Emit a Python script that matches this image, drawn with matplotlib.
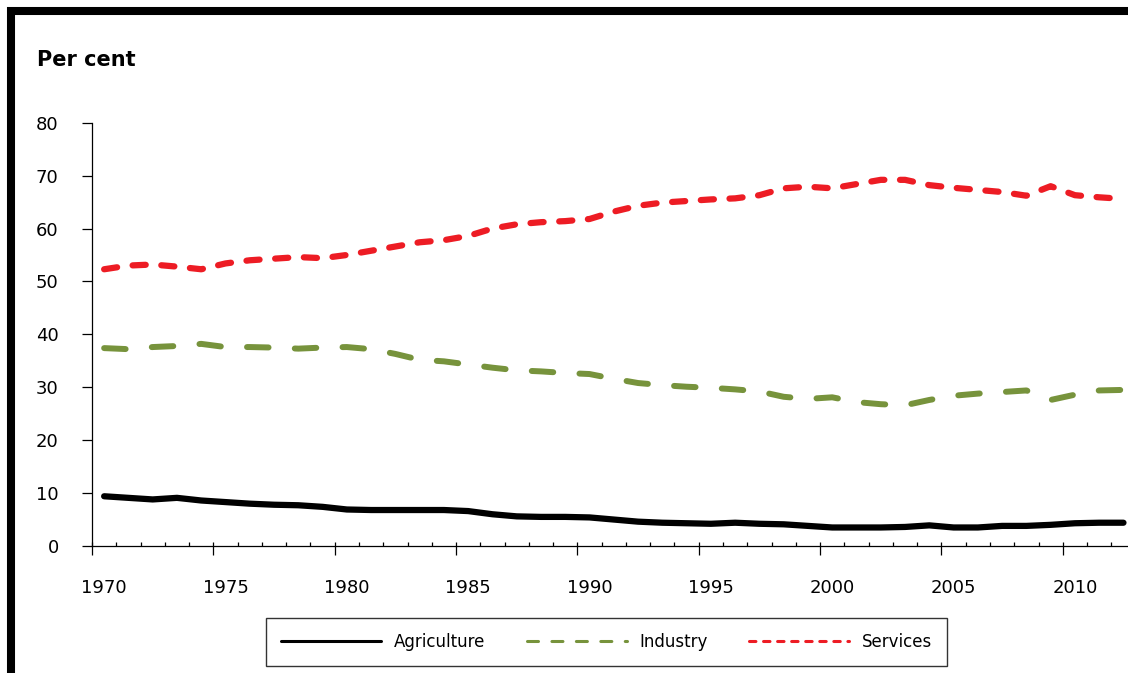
import numpy as np
import matplotlib
matplotlib.use('Agg')
from matplotlib import pyplot as plt
from matplotlib.patches import Rectangle

plt.rcParams['font.family'] = ['DejaVu Sans']

# 数据：各产业占比（百分比）
years = list(range(1970, 2013))
agriculture = [9.4, 9.1, 8.8, 9.1, 8.6, 8.3, 8.0, 7.8, 7.7, 7.4,
               6.9, 6.8, 6.8, 6.8, 6.8, 6.6, 6.0, 5.6, 5.5, 5.5,
               5.4, 5.0, 4.6, 4.4, 4.3, 4.2, 4.4, 4.2, 4.1, 3.8,
               3.5, 3.5, 3.5, 3.6, 3.9, 3.5, 3.5, 3.8, 3.8, 4.0,
               4.3, 4.4, 4.4]
industry = [37.4, 37.2, 37.6, 37.8, 38.2, 37.6, 37.6, 37.5, 37.3, 37.5,
            37.6, 37.2, 36.3, 35.2, 34.9, 34.3, 33.7, 33.2, 33.0, 32.7,
            32.5, 31.6, 30.8, 30.4, 30.1, 29.9, 29.6, 29.2, 28.2, 27.8,
            28.1, 27.2, 26.8, 26.6, 27.6, 28.4, 28.8, 29.1, 29.4, 27.6,
            28.6, 29.4, 29.5]
services = [52.3, 53.0, 53.2, 52.8, 52.3, 53.4, 54.0, 54.3, 54.6, 54.4,
            55.0, 55.8, 56.6, 57.4, 57.8, 58.6, 60.0, 60.8, 61.2, 61.4,
            61.8, 63.2, 64.3, 64.9, 65.2, 65.5, 65.7, 66.3, 67.6, 67.9,
            67.6, 68.4, 69.2, 69.2, 68.2, 67.7, 67.3, 66.9, 66.2, 68.0,
            66.3, 65.9, 65.6]
series_names = ['Agriculture', 'Industry', 'Services']
y_ticks = list(range(0, 90, 10))
x_label_years = list(range(1970, 2015, 5))

fig = plt.figure(figsize=(11.28, 6.73), dpi=100)
W, H = 1128, 673
n = len(years)
cat_w = 24.27
ax = fig.add_axes([92 / W, (H - 546) / H, cat_w * n / W, (546 - 122.7) / H])

ax.plot(years, agriculture, color='black', lw=4.5, solid_joinstyle='round',
        solid_capstyle='round', label=series_names[0])
ax.plot(years, industry, color='#77933C', lw=4.3, dashes=(3.6, 4.4),
        dash_capstyle='round', dash_joinstyle='round', label=series_names[1])
ax.plot(years, services, color='#ED1C24', lw=4.5, dashes=(2.1, 2.5),
        dash_capstyle='round', dash_joinstyle='round', label=series_names[2])

ax.set_xlim(years[0] - 0.5, years[-1] + 0.5)
ax.set_ylim(0, 80)
for s in ['top', 'right']:
    ax.spines[s].set_visible(False)
for s in ['left', 'bottom']:
    ax.spines[s].set_linewidth(0.9)
    ax.spines[s].set_clip_on(False)

ax.set_yticks(y_ticks)
ax.tick_params(axis='y', direction='out', length=7, width=0.9, pad=17, labelsize=13)

# 类别轴：标签在类别中心，刻度在类别边界
ax.set_xticks(x_label_years, [str(y) for y in x_label_years])
ax.tick_params(axis='x', which='major', length=0, pad=24, labelsize=13)
ax.set_xticks(np.arange(years[0] - 0.5, years[-1] + 1, 1), minor=True)
ax.tick_params(axis='x', which='minor', direction='in', length=3, width=0.9)

sec = ax.secondary_xaxis('bottom')
sec.set_xticks(np.arange(years[0] - 0.5, years[-1] + 1, 5), labels=[])
sec.tick_params(direction='out', length=6.5, width=0.9)
sec.spines['bottom'].set_visible(False)

fig.text(37 / W, 1 - 50 / H, 'Per cent', fontsize=15, fontweight='bold',
         ha='left', va='top')

leg = fig.legend(loc='center', bbox_to_anchor=(606.5 / W, 1 - 642 / H), ncol=3,
                 fontsize=12, frameon=True, fancybox=False, edgecolor='black',
                 handlelength=6.0, handletextpad=0.75, columnspacing=2.5,
                 borderpad=0.9)
leg.get_frame().set_linewidth(1.0)
for line in leg.get_lines():
    line.set_linewidth(2.2)

# 外框
fig.patches.append(Rectangle((11 / W, -0.1), 1.5, 1.1 - 11 / H, transform=fig.transFigure,
                             fill=False, lw=5.8, edgecolor='black', joinstyle='miter'))

fig.savefig('out.png', dpi=100)
